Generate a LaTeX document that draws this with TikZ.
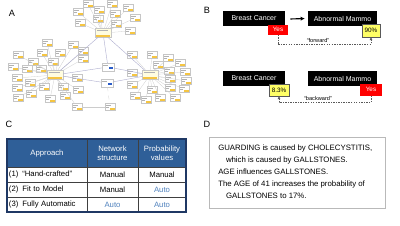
\documentclass[tikz,border=0pt]{standalone}
\usepackage{fontspec}
\setmainfont{Liberation Sans}
\usetikzlibrary{arrows.meta}
\definecolor{barc}{HTML}{F5C542}
\definecolor{hdrblue}{HTML}{2F5F98}
\definecolor{navy}{HTML}{1F3864}
\definecolor{autoblue}{HTML}{4F81BD}
\definecolor{yelbox}{HTML}{FFFF66}
\definecolor{bluemark}{HTML}{2A5CC8}
\begin{document}
\begin{tikzpicture}[x=0.025cm,y=-0.025cm,
  leaf/.style={draw=gray!45, fill=white, line width=0.2pt, minimum width=0.25cm, minimum height=0.175cm, inner sep=0pt,
    path picture={
      \fill[barc] ([xshift=-0.13cm]path picture bounding box.south east) rectangle ([yshift=0.06cm]path picture bounding box.south east);
      \draw[gray!60, line width=0.25pt] ([xshift=0.03cm,yshift=-0.04cm]path picture bounding box.north west) -- ++(0.12cm,0);
      \draw[gray!60, line width=0.25pt] ([xshift=0.03cm,yshift=-0.08cm]path picture bounding box.north west) -- ++(0.08cm,0);}},
  hub/.style={draw=gray!45, fill=yellow!12, line width=0.2pt, minimum width=0.4cm, minimum height=0.22cm, inner sep=0pt,
    path picture={
      \fill[barc] ([xshift=0.03cm]path picture bounding box.south west) rectangle ([xshift=-0.03cm,yshift=0.07cm]path picture bounding box.south east);
      \draw[gray!60, line width=0.25pt] ([xshift=0.05cm,yshift=-0.05cm]path picture bounding box.north west) -- ++(0.28cm,0);}},
  bnode/.style={draw=gray!45, fill=white, line width=0.2pt, minimum width=0.3cm, minimum height=0.2cm, inner sep=0pt,
    path picture={
      \fill[bluemark] ([xshift=-0.12cm,yshift=0.05cm]path picture bounding box.south east) rectangle ([xshift=-0.02cm,yshift=0.1cm]path picture bounding box.south east);
      \draw[gray!60, line width=0.25pt] ([xshift=0.03cm,yshift=-0.05cm]path picture bounding box.north west) -- ++(0.12cm,0);}},
  edge/.style={gray!40, line width=0.2pt},
  hedge/.style={blue!25!gray!50, line width=0.3pt},
  plabel/.style={font=\fontsize{6.5}{7}\selectfont, inner sep=0pt},
  blackbox/.style={fill=black, text=white, minimum height=0.375cm, inner sep=0pt, font=\fontsize{5}{6}\selectfont},
  redbox/.style={fill=red, text=white, minimum width=0.5cm, minimum height=0.25cm, inner sep=0pt, font=\fontsize{4.5}{5}\selectfont},
  yelbx/.style={fill=yelbox, draw=gray!70!black, line width=0.3pt, minimum height=0.3cm, inner sep=0pt, font=\fontsize{4.5}{5}\selectfont},
  dashconn/.style={gray!70!black, dashed, dash pattern=on 1pt off 0.8pt, line width=0.3pt, -{Latex[length=2pt,width=2pt]}},
  smalllbl/.style={font=\fontsize{4}{5}\selectfont, inner sep=0pt},
  cell/.style={draw=gray!50!black, line width=0.35pt, inner sep=0pt, outer sep=0pt, font=\fontsize{5.5}{6.6}\selectfont, align=center},
  hcell/.style={cell, fill=hdrblue, text=white},
]
\useasboundingbox (0,0) rectangle (400,225);

% ---------------- Panel A ----------------
\node[plabel] (la) at (12,13) {A};
\node[hub] (T) at (103,33) {};
\node[hub] (L) at (55,75) {};
\node[hub] (R) at (150,75) {};
\node[bnode] (B1) at (108,67) {};
\node[bnode] (B2) at (107,83) {};
\node[leaf] (Bt1) at (77,107) {};
\node[leaf] (Bt2) at (110,107) {};

\foreach \n/\x/\y in {t1/88/4, t2/112/4, t3/78/12, t4/99/10, t5/115/14, t6/128/8, t7/80/23, t8/98/19, t9/135/18, t10/116/24, t11/130/31}
  \node[leaf] (\n) at (\x,\y) {};
\foreach \n/\x/\y in {l1/47/43, l2/73/45, l3/83/51, l4/18/55, l5/42/53, l6/60/53, l7/33/62, l8/53/62, l9/83/59, l10/13/67, l11/27/69, l12/41/69, l13/17/78, l14/77/78, l15/30/83, l16/63/87, l17/17/88, l18/44/87, l19/78/90, l20/18/98, l21/31/94, l22/50/99, l23/65/96}
  \node[leaf] (\n) at (\x,\y) {};
\foreach \n/\x/\y in {r1/132/55, r2/152/55, r3/168/58, r4/180/63, r5/158/65, r6/132/73, r7/169/71, r8/185/72, r9/170/79, r10/186/81, r11/132/85, r12/152/90, r13/170/88, r14/184/89, r15/135/96, r16/146/100, r17/160/98, r18/175/98}
  \node[leaf] (\n) at (\x,\y) {};

\foreach \n in {t1,t2,t3,t4,t5,t6,t7,t8,t9,t10,t11} \draw[edge] (T) -- (\n);
\foreach \n in {l1,l2,l3,l4,l5,l6,l7,l8,l9,l10,l11,l12,l13,l14,l15,l16,l17,l18,l19,l20,l21,l22,l23} \draw[edge] (L) -- (\n);
\foreach \n in {r1,r2,r3,r4,r5,r6,r7,r8,r9,r10,r11,r12,r13,r14,r15,r16,r17,r18} \draw[edge] (R) -- (\n);
\draw[hedge] (T) -- (L);
\draw[hedge] (T) -- (R);
\draw[hedge] (T) -- (B1);
\draw[hedge] (L) -- (B1);
\draw[hedge] (L) -- (B2);
\draw[hedge] (R) -- (B1);
\draw[hedge] (R) -- (B2);
\draw[edge, dashed] (B2) -- (Bt2);
\draw[edge] (Bt1) -- (Bt2);
\draw[edge] (L) -- (Bt1);

% ---------------- Panel B ----------------
\node[plabel] (lb) at (207,10) {B};
\node[blackbox, minimum width=1.55cm] (bc1) at (254,18.5) {Breast Cancer};
\node[blackbox, minimum width=1.725cm] (am1) at (342.5,18.5) {Abnormal Mammo};
\node[redbox] (yes1) at (278,29.5) {Yes};
\node[yelbx, minimum width=0.45cm, minimum height=0.325cm] (p90) at (371,30.5) {90\%};
\draw[line width=0.8pt, -{Latex[length=3pt,width=3pt]}] (bc1.east |- 0,19) ++(5,0) coordinate (a1s) (a1s) -- ([xshift=-2pt]am1.west);
\coordinate (fw1) at (278,44.5);
\coordinate (fw2) at (371,44.5);
\draw[dashconn] (yes1.south) -- (fw1) -- (fw2) -- (p90.south);
\node[smalllbl] (fwl) at (318,40.5) {“forward”};

\node[blackbox, minimum width=1.55cm] (bc2) at (254,78.5) {Breast Cancer};
\node[blackbox, minimum width=1.725cm] (am2) at (342.5,78.5) {Abnormal Mammo};
\node[yelbx, minimum width=0.5cm] (p83) at (279,90) {8.3\%};
\node[redbox, minimum width=0.55cm, minimum height=0.3cm] (yes2) at (371,89.5) {Yes};
\coordinate (bw1) at (371,102.5);
\coordinate (bw2) at (279,102.5);
\draw[dashconn] (yes2.south) -- (bw1) -- (bw2) -- (p83.south);
\node[smalllbl] (bwl) at (318,98.5) {“backward”};

% ---------------- Panel C ----------------
\node[plabel] (lc) at (9,124) {C};
\node[hcell, minimum width=2cm, minimum height=0.7cm] (h1) at (47,153) {Approach};
\node[hcell, minimum width=1.275cm, minimum height=0.7cm] (h2) at (112.5,153) {Network\\structure};
\node[hcell, minimum width=1.2cm, minimum height=0.7cm] (h3) at (162,153) {Probability\\values};
\node[cell, text width=1.9cm, inner xsep=0.05cm, minimum height=0.375cm, align=left] (a1) at (47,174.5) {(1)\enspace“Hand-crafted”};
\node[cell, minimum width=1.275cm, minimum height=0.375cm] (a2) at (112.5,174.5) {Manual};
\node[cell, minimum width=1.2cm, minimum height=0.375cm] (a3) at (162,174.5) {Manual};
\node[cell, text width=1.9cm, inner xsep=0.05cm, minimum height=0.375cm, align=left] (b1) at (47,189.5) {(2)\enspace Fit to Model};
\node[cell, minimum width=1.275cm, minimum height=0.375cm] (b2) at (112.5,189.5) {Manual};
\node[cell, minimum width=1.2cm, minimum height=0.375cm, text=autoblue] (b3) at (162,189.5) {Auto};
\node[cell, text width=1.9cm, inner xsep=0.05cm, minimum height=0.375cm, align=left] (c1) at (47,204.5) {(3)\enspace Fully Automatic};
\node[cell, minimum width=1.275cm, minimum height=0.375cm, text=autoblue] (c2) at (112.5,204.5) {Auto};
\node[cell, minimum width=1.2cm, minimum height=0.375cm, text=autoblue] (c3) at (162,204.5) {Auto};
\draw[navy, line width=0.9pt] (h1.north west) rectangle (c3.south east);

% ---------------- Panel D ----------------
\node[plabel] (ld) at (207,124) {D};
\node[draw=gray!55, line width=0.4pt, minimum width=4.4cm, minimum height=1.775cm, inner sep=0pt] (dbox) at (297,172.5) {};
\node[anchor=north west, inner sep=0pt, align=left, font=\fontsize{5.55}{8.5}\selectfont] (dtext) at (218,145)
  {GUARDING is caused by CHOLECYSTITIS,\\
   \hspace*{5.5pt}which is caused by GALLSTONES.\\
   AGE influences GALLSTONES.\\
   The AGE of 41 increases the probability of\\
   \hspace*{5.5pt}GALLSTONES to 17\%.};
\end{tikzpicture}
\end{document}
